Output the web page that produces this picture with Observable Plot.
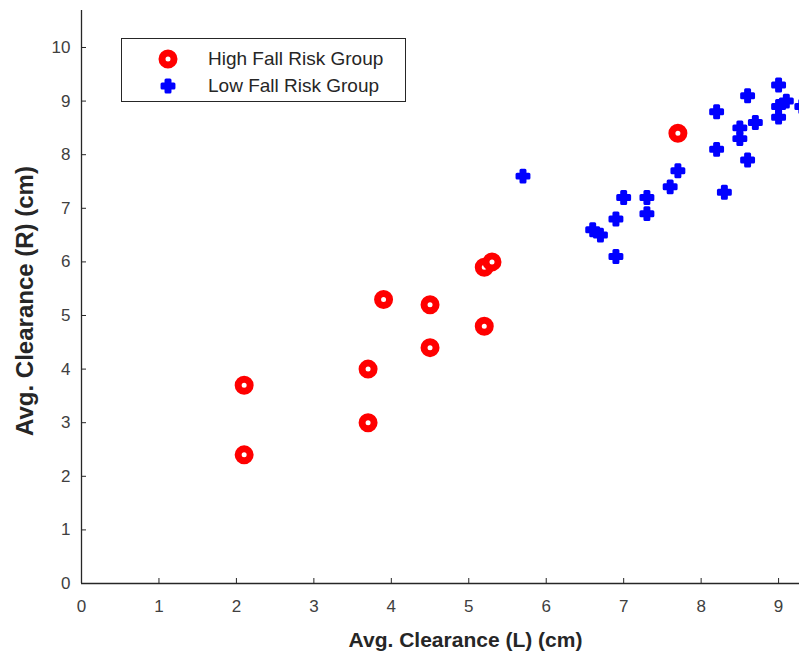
<!DOCTYPE html>
<html><head><meta charset="utf-8">
<script src="https://cdn.jsdelivr.net/npm/d3@7"></script>
<script src="https://cdn.jsdelivr.net/npm/@observablehq/plot@0.6"></script>
<style>
body{margin:0;background:#fff;}
#wrap{position:relative;width:799px;height:662px;overflow:hidden;font-family:"Liberation Sans",Arial,sans-serif;}
#legend{position:absolute;left:121px;top:38px;width:285px;height:64px;border:1px solid #262626;background:#fff;box-sizing:border-box;}
#legend .item{position:absolute;left:0;height:20px;display:flex;align-items:center;font-size:19px;color:#262626;white-space:nowrap;}
#legend svg{position:absolute;}
</style></head><body><div id="wrap"></div>
<script>
// High fall risk group: left / right clearance (cm)
const highL = [2.1, 2.1, 3.7, 3.7, 3.9, 4.5, 4.5, 5.2, 5.2, 5.3, 7.7];
const highR = [2.4, 3.7, 3.0, 4.0, 5.3, 4.4, 5.2, 4.8, 5.9, 6.0, 8.4];
// Low fall risk group
const lowL = [5.7, 6.6, 6.7, 6.9, 6.9, 7.0, 7.3, 7.3, 7.6, 7.7, 8.2, 8.2, 8.3, 8.5, 8.5, 8.6, 8.6, 8.7, 9.0, 9.0, 9.0, 9.1, 9.3];
const lowR = [7.6, 6.6, 6.5, 6.8, 6.1, 7.2, 7.2, 6.9, 7.4, 7.7, 8.8, 8.1, 7.3, 8.5, 8.3, 9.1, 7.9, 8.6, 9.3, 8.9, 8.7, 9.0, 8.9];
const groups = ["High Fall Risk Group", "Low Fall Risk Group"];
const xTicks = [0, 1, 2, 3, 4, 5, 6, 7, 8, 9];
const yTicks = [0, 1, 2, 3, 4, 5, 6, 7, 8, 9, 10];
const xLabel = "Avg. Clearance (L) (cm)";
const yLabel = "Avg. Clearance (R) (cm)";

const high = highL.map((x, i) => ({x, y: highR[i], g: groups[0]}));
const low = lowL.map((x, i) => ({x, y: lowR[i], g: groups[1]}));
const ink = "#262626";

const chart = Plot.plot({
  width: 799, height: 662,
  marginLeft: 81, marginRight: 0, marginTop: 10, marginBottom: 79,
  style: {fontFamily: "'Liberation Sans', Arial, sans-serif", fontSize: "17px", color: ink, background: "#fff", overflow: "hidden"},
  x: {domain: [0, 9.27], label: null},
  y: {domain: [0, 10.69], label: null},
  marks: [
    Plot.axisX({ticks: xTicks, tickSize: -5, tickFormat: () => "", label: null, stroke: ink}),
    Plot.axisX({ticks: xTicks, tickSize: 0, tickPadding: 16, label: null, fill: "#404040"}),
    Plot.axisY({ticks: yTicks, tickSize: 0, tickPadding: 11, label: null, fill: "#404040"}),
    Plot.axisY({ticks: yTicks, tickSize: -5, tickFormat: () => "", label: null, stroke: ink}),
    Plot.ruleY([0], {stroke: ink, strokeWidth: 1.3}),
    Plot.ruleX([0], {stroke: ink, strokeWidth: 1.3}),
    Plot.dot(high, {x: "x", y: "y", r: 6, stroke: "#ff0000", strokeWidth: 7, fill: "#fff"}),
    Plot.dot(low, {x: "x", y: "y", symbol: "cross", r: 5, fill: "#0000ff", stroke: "#0000ff", strokeWidth: 3, strokeLinejoin: "round"}),
    Plot.text([xLabel], {frameAnchor: "bottom", textAnchor: "middle", lineAnchor: "middle", dy: 57, dx: 25, fontSize: 21, fontWeight: "bold", fill: ink}),
    Plot.text([yLabel], {frameAnchor: "left", textAnchor: "middle", lineAnchor: "middle", rotate: -90, dx: -56, dy: 4, fontSize: 24, fontWeight: "bold", fill: ink})
  ]
});
const wrap = document.getElementById("wrap");
wrap.appendChild(chart);

// Legend
const legend = document.createElement("div");
legend.id = "legend";
wrap.appendChild(legend);
const items = [
  {label: groups[0], top: 9.5, draw: s => s.append("circle").attr("cx", 10).attr("cy", 10).attr("r", 6).attr("fill", "#fff").attr("stroke", "#ff0000").attr("stroke-width", 7)},
  {label: groups[1], top: 37, draw: s => s.append("path").attr("transform", "translate(10,10)").attr("d", d3.symbol(d3.symbolCross, Math.PI * 25)()).attr("fill", "#0000ff").attr("stroke", "#0000ff").attr("stroke-width", 3).attr("stroke-linejoin", "round")}
];
for (const it of items) {
  const row = d3.select(legend).append("div").attr("class", "item").style("top", it.top + "px").style("left", "0px").style("width", "100%");
  const svg = row.append("svg").attr("width", 20).attr("height", 20).style("left", "36px").style("top", "0px");
  it.draw(svg);
  row.append("span").style("position", "absolute").style("left", "86px").text(it.label);
}
</script>
</body></html>
